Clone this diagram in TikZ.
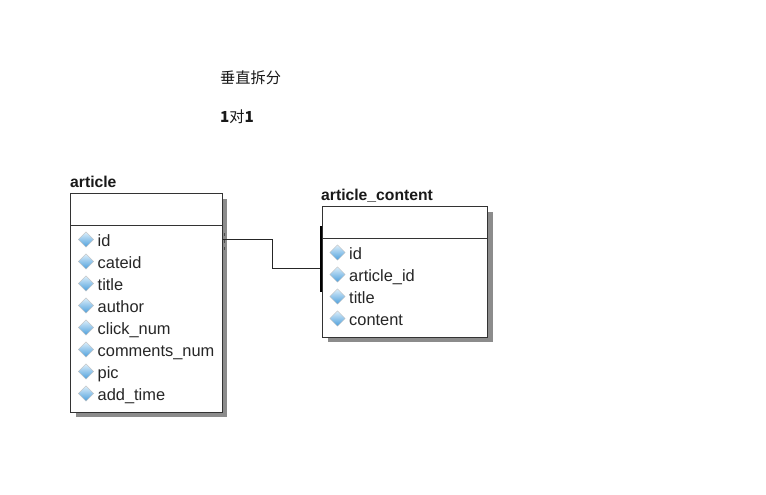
\documentclass[tikz,border=0pt]{standalone}
\usepackage{fontspec}
\setmainfont{Liberation Sans}
\newfontfamily\cjk{Noto Sans CJK SC}
\usetikzlibrary{shapes.geometric,positioning}
\definecolor{shadowgray}{HTML}{8C8C8C}
\definecolor{gemtop}{HTML}{DCEEFA}
\definecolor{gembottom}{HTML}{4C9FDC}
\definecolor{boxline}{HTML}{333333}
\tikzset{
    tablebox/.style={draw=boxline, line width=1.3pt, fill=white, minimum width=151.5pt, inner sep=0pt, anchor=north west},
    boxshadow/.style={fill=shadowgray},
    tabletitle/.style={font=\bfseries\fontsize{15.7pt}{17pt}\selectfont, text=black!90, anchor=base west, inner sep=0pt},
    fieldlabel/.style={font=\fontsize{16.4pt}{18pt}\selectfont, text=black!85, anchor=base west, inner sep=0pt},
    gem/.style={diamond, draw=black!25, line width=0.4pt, top color=gemtop, bottom color=gembottom, minimum size=15.5pt, inner sep=0pt},
    notetext/.style={font=\cjk\fontsize{15.2pt}{17pt}\selectfont, text=black!90, anchor=base west, inner sep=0pt},
    relation/.style={draw=black!85, line width=1pt},
}
\begin{document}
\begin{tikzpicture}[x=1pt, y=-1pt]
    \useasboundingbox (0,0) rectangle (766,495);
    \fill[white] (0,0) rectangle (766,495);

    % Notes on top
    \node[notetext] (notesplit) at (220,84) {垂直拆分};
    \node[notetext] (noteratio) at (220,122) {\textbf{1}对\textbf{1}};

    % Table article
    \fill[boxshadow] (76,199) rectangle (227,417);
    \node[tablebox, minimum height=32pt] (articlehead) at (70,193) {};
    \node[tablebox, minimum height=187pt] (articlebody) at (70,225) {};
    \node[tabletitle] (articletitle) at (70,187) {article};
    \foreach \idx/\fieldname in {0/id,1/cateid,2/title,3/author,4/click\_num,5/comments\_num,6/pic,7/add\_time} {
        \node[gem] (agem\idx) at (86,{239.5+22*\idx}) {};
        \node[fieldlabel] (afield\idx) at (97.5,{246+22*\idx}) {\fieldname};
    }

    % Table article_content
    \fill[boxshadow] (328,212) rectangle (493,342);
    \node[tablebox, minimum width=165.5pt, minimum height=32pt] (contenthead) at (321.5,206) {};
    \node[tablebox, minimum width=165.5pt, minimum height=99pt] (contentbody) at (321.5,238) {};
    \node[tabletitle] (contenttitle) at (321,200) {article\_content};
    \foreach \idx/\fieldname in {0/id,1/article\_id,2/title,3/content} {
        \node[gem] (cgem\idx) at (337.5,{252.5+22*\idx}) {};
        \node[fieldlabel] (cfield\idx) at (349,{259+22*\idx}) {\fieldname};
    }

    % Relation between both tables
    \coordinate (relstart) at ([yshift=-14pt]articlebody.north east);
    \coordinate (relend) at ([yshift=-30pt]contentbody.north west);
    \coordinate (relbend) at ([xshift=49.5pt]relstart);
    \draw[relation] (relstart) -- (relbend) |- (relend);
    \coordinate (barstart) at ([xshift=-1pt,yshift=12pt]contentbody.north west);
    \coordinate (barend) at ([xshift=-1pt,yshift=-54pt]contentbody.north west);
    \draw[black, line width=2pt] (barstart) -- (barend);
    \draw[black!70, line width=1pt, dash pattern=on 3pt off 4pt] ([xshift=1.5pt,yshift=6pt]relstart) -- ([xshift=1.5pt,yshift=-11pt]relstart);
\end{tikzpicture}
\end{document}
